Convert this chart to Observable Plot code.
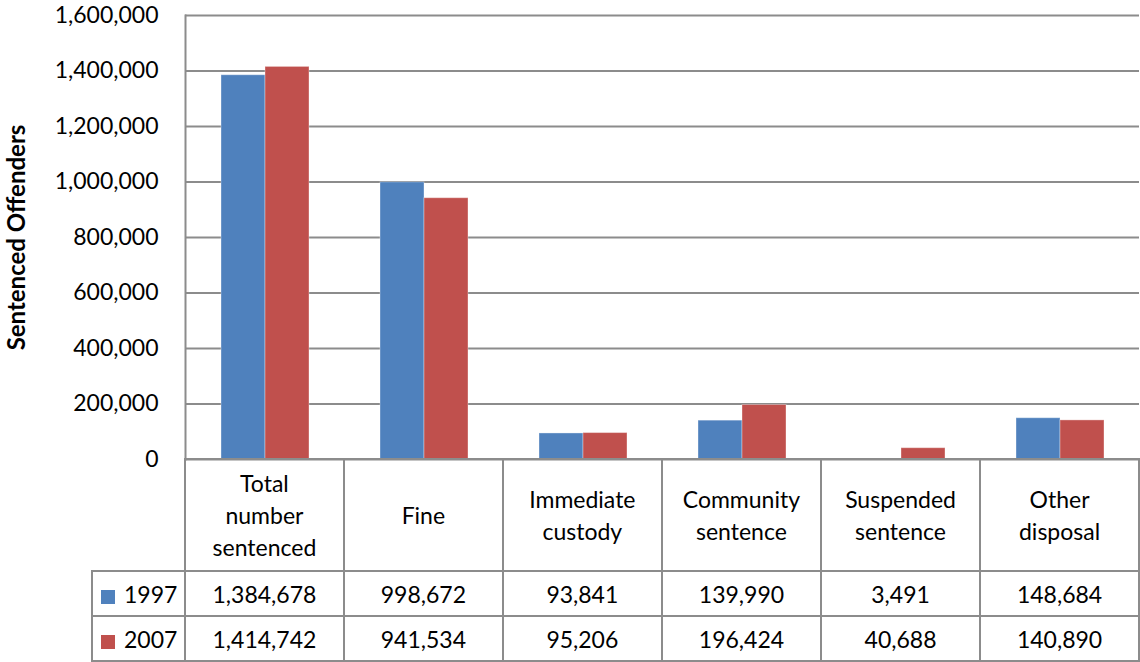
<!DOCTYPE html>
<html>
<head>
<meta charset="utf-8">
<script src="https://cdn.jsdelivr.net/npm/d3@7"></script>
<script src="https://cdn.jsdelivr.net/npm/@observablehq/plot@0.6"></script>
<style>
  html, body { margin: 0; padding: 0; background: #fff; }
  #wrap { position: relative; width: 1140px; height: 662px; font-family: Lato, "Open Sans", sans-serif; }
  #wrap svg { position: absolute; left: 0; top: 0; }
  g[aria-label="y-axis label"] text { font-weight: bold; font-size: 24px; }
  table.dt { position: absolute; left: 91px; top: 458px; border-collapse: collapse; font-family: Lato, sans-serif; font-size: 23px; color: #000; table-layout: fixed; }
  table.dt td { border: 2px solid #8c8c8c; text-align: center; vertical-align: middle; padding: 0; line-height: 32px; }
  table.dt td.blank { border: none; }
  table.dt td.lab { text-align: left; padding-left: 8px; white-space: nowrap; }
  .key { display: inline-block; width: 14px; height: 14px; margin-right: 9px; vertical-align: -1px; }
</style>
</head>
<body>
<div id="wrap"></div>
<script>
const categories = ["Total number sentenced", "Fine", "Immediate custody", "Community sentence", "Suspended sentence", "Other disposal"];
const headerLines = [["Total", "number", "sentenced"], ["Fine"], ["Immediate", "custody"], ["Community", "sentence"], ["Suspended", "sentence"], ["Other", "disposal"]];
const years = ["1997", "2007"];
const values1997 = [1384678, 998672, 93841, 139990, 3491, 148684];
const values2007 = [1414742, 941534, 95206, 196424, 40688, 140890];
const yTicks = [0, 200000, 400000, 600000, 800000, 1000000, 1200000, 1400000, 1600000];
const colors = ["#4F81BD", "#C0504D"];

const data = [];
categories.forEach((c, i) => {
  data.push({category: c, year: years[0], value: values1997[i]});
  data.push({category: c, year: years[1], value: values2007[i]});
});

const fmt = d3.format(",");

const chart = Plot.plot({
  width: 1140,
  height: 662,
  marginTop: 15,
  marginBottom: 203,
  marginLeft: 184,
  marginRight: 0,
  style: {fontFamily: "Lato, sans-serif", fontSize: "23px", color: "#000", background: "transparent"},
  fx: {domain: categories, padding: 0, axis: null},
  x: {domain: years, paddingInner: 0, paddingOuter: 0.77, axis: null},
  y: {domain: [0, 1600000], axis: null},
  color: {domain: years, range: colors},
  marks: [
    Plot.gridY(yTicks, {stroke: "#8c8c8c", strokeOpacity: 1, strokeWidth: 2}),
    Plot.barY(data, {fx: "category", x: "year", y: "value", fill: "year", stroke: "#ffffff", strokeOpacity: 0.35, strokeWidth: 1}),
    Plot.axisY(yTicks, {tickSize: 0, tickPadding: 27, tickFormat: fmt, label: "Sentenced Offenders", labelAnchor: "center", labelArrow: "none", labelOffset: 178, fontSize: 23}),
    Plot.frame({anchor: "left", facetAnchor: "left", stroke: "#8c8c8c", strokeWidth: 2})
  ]
});

const wrap = document.getElementById("wrap");
wrap.appendChild(chart);

// data table under the chart
const table = document.createElement("table");
table.className = "dt";
const colg = document.createElement("colgroup");
const widths = [93].concat(categories.map(() => 159.5));
widths.forEach(w => { const c = document.createElement("col"); c.style.width = w + "px"; colg.appendChild(c); });
table.appendChild(colg);

const hr = document.createElement("tr");
hr.style.height = "112px";
const blank = document.createElement("td"); blank.className = "blank"; hr.appendChild(blank);
headerLines.forEach(lines => {
  const td = document.createElement("td");
  td.innerHTML = lines.join("<br>");
  hr.appendChild(td);
});
table.appendChild(hr);

[values1997, values2007].forEach((vals, k) => {
  const tr = document.createElement("tr");
  tr.style.height = "45px";
  const lab = document.createElement("td");
  lab.className = "lab";
  lab.innerHTML = `<span class="key" style="background:${colors[k]}"></span>${years[k]}`;
  tr.appendChild(lab);
  vals.forEach(v => {
    const td = document.createElement("td");
    td.textContent = fmt(v);
    tr.appendChild(td);
  });
  table.appendChild(tr);
});
wrap.appendChild(table);
</script>
</body>
</html>
